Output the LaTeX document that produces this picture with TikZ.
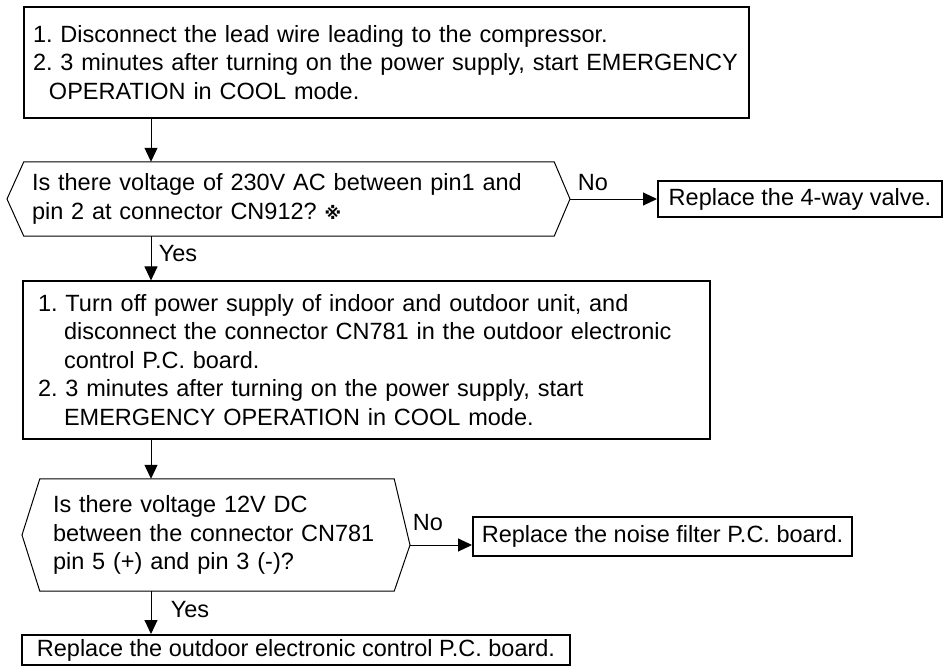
\documentclass[tikz,border=0pt]{standalone}
\usepackage{fontspec}
\setmainfont{Liberation Sans}
\newfontfamily\refmarkfont{DejaVu Sans}
\usepackage{tikz}
\usetikzlibrary{arrows.meta, calc}
\newcommand{\FlowFont}{\fontsize{23.5}{28.5}\selectfont\frenchspacing}
\newcommand{\RefMark}{{\refmarkfont\bfseries\fontsize{17}{17}\selectfont ※}}

\begin{document}
\begin{tikzpicture}[x=1pt, y=-1pt,
    every node/.style={font=\FlowFont},
    stepbox/.style={draw, line width=1.1pt, align=left, inner ysep=0pt},
    askbox/.style={align=left, inner ysep=0pt},
    resultbox/.style={draw, line width=2pt, inner ysep=0pt},
    lbl/.style={inner sep=0pt},
    hexline/.style={line width=1pt},
    flowarrow/.style={line width=1pt, -{Triangle[length=14pt, width=13pt]}}
]
    \useasboundingbox (0,0) rectangle (943,667);

    % Explicit Coordinates: flow spine and tips of the two decision hexagons
    \coordinate (spine) at (151, 0);     % vertical flow line
    \coordinate (T1W)   at (7, 199);     % Decision 1, left tip
    \coordinate (T1E)   at (570, 199);   % Decision 1, right tip
    \coordinate (T2W)   at (22, 535);    % Decision 2, left tip
    \coordinate (T2E)   at (410, 545);   % Decision 2, right tip

    % Steps
    \node[stepbox, text width=707pt, inner xsep=9pt, minimum height=111pt] (step1) at (386.5, 62.5)
        {1. Disconnect the lead wire leading to the compressor.\\
         2. 3 minutes after turning on the power supply, start EMERGENCY\\
         \hspace*{16pt}OPERATION in COOL mode.};
    \node[stepbox, text width=657pt, inner xsep=15pt, minimum height=158pt] (step2) at (366.5, 360)
        {1. Turn off power supply of indoor and outdoor unit, and\\
         \hspace*{26pt}disconnect the connector CN781 in the outdoor electronic\\
         \hspace*{26pt}control P.C. board.\\
         2. 3 minutes after turning on the power supply, start\\
         \hspace*{26pt}EMERGENCY OPERATION in COOL mode.};

    % Decisions
    \node[askbox, text width=514pt, inner xsep=8pt, minimum height=74pt] (check1) at (289, 199)
        {Is there voltage of 230V AC between pin1 and\\
         pin 2 at connector CN912? \RefMark};
    \node[askbox, text width=328pt, inner xsep=13pt, minimum height=112pt] (check2) at (217, 535)
        {Is there voltage 12V DC\\
         between the connector CN781\\
         pin 5 (+) and pin 3 (-)?};
    \draw[hexline] (check1.north west) -- (check1.north east) -- (T1E) -- (check1.south east)
        -- (check1.south west) -- (T1W) -- cycle;
    \draw[hexline] (check2.north west) -- (check2.north east) -- (T2E) -- (check2.south east)
        -- (check2.south west) -- (T2W) -- cycle;

    % Results
    \node[resultbox, minimum width=284pt, minimum height=36pt] (valve) at (800, 199)
        {Replace the 4-way valve.};
    \node[resultbox, minimum width=379pt, minimum height=39pt] (noise) at (662.5, 536.5)
        {Replace the noise filter P.C. board.};
    \node[resultbox, minimum width=548pt, minimum height=30pt] (final) at (296, 650)
        {Replace the outdoor electronic control P.C. board.};

    % Connectors
    \draw[flowarrow] (step1.south -| spine) -- (check1.north -| spine);
    \draw[flowarrow] (check1.south -| spine) -- (step2.north -| spine);
    \draw[flowarrow] (step2.south -| spine) -- (check2.north -| spine);
    \draw[flowarrow] (check2.south -| spine) -- (final.north -| spine);
    \draw[flowarrow] (T1E) -- (valve.west);
    \draw[flowarrow] (T2E) -- (noise.west |- T2E);

    \node[lbl] (no1)  at (593, 183) {No};
    \node[lbl] (yes1) at (178, 254) {Yes};
    \node[lbl] (no2)  at (428, 523) {No};
    \node[lbl] (yes2) at (190, 610) {Yes};
\end{tikzpicture}
\end{document}
